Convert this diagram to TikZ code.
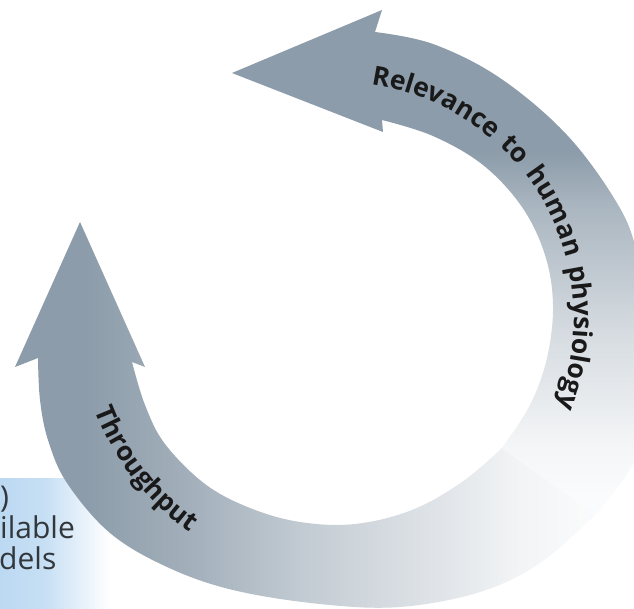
\documentclass[tikz,border=0pt]{standalone}
\usepackage{fontspec}
\setmainfont{Open Sans}
\usetikzlibrary{decorations.text}
\definecolor{tg}{RGB}{140,156,170}
\definecolor{boxblue}{RGB}{188,217,242}
\definecolor{txt}{RGB}{25,25,25}
\definecolor{boxtxt}{RGB}{50,55,60}
\pgfdeclarehorizontalshading{thrushade}{100bp}{color(0bp)=(tg); color(31bp)=(tg); color(41bp)=(tg!78!white); color(50bp)=(tg!52!white); color(62bp)=(tg!26!white); color(68bp)=(tg!12!white); color(74bp)=(tg!5!white); color(100bp)=(tg!5!white)}
\pgfdeclareverticalshading{relshade}{100bp}{color(0bp)=(tg!3!white); color(27bp)=(tg!4!white); color(32bp)=(tg!10!white); color(37bp)=(tg!22!white); color(42bp)=(tg!33!white); color(46bp)=(tg!45!white); color(51bp)=(tg!60!white); color(56bp)=(tg!76!white); color(61bp)=(tg); color(100bp)=(tg)}
\pgfdeclarehorizontalshading{boxshade}{100bp}{color(0bp)=(boxblue); color(25bp)=(boxblue); color(45bp)=(boxblue!85!white); color(75bp)=(white); color(100bp)=(white)}
\newcommand\arcfont{\fontsize{26.5}{30}\selectfont\bfseries}
\tikzset{
  boxtext/.style={anchor=base west, inner sep=0pt, text=boxtxt, font=\fontsize{30}{33}\selectfont},
  arclabel/.style={decorate, decoration={text along path, text align=center, text color=txt, text={|\arcfont|#1}}}
}
\begin{document}
\begin{tikzpicture}[x=1pt,y=1pt]
\useasboundingbox (0,0) rectangle (634,-609);
\clip (0,0) rectangle (634,-609);
\fill[white] (0,0) rectangle (634,-609);
% blue box (cropped)
\shade[shading=boxshade] (0,-478) rectangle (110,-609);
\node[boxtext] (b1) at (0,-507) {)};
\node[boxtext] (b2) at (0,-538) {ilable};
\node[boxtext] (b3) at (-1,-569) {dels};
% Throughput arrow
\shade[shading=thrushade] (80,-222) -- (145,-367) -- (132,-362)
  -- plot[smooth, tension=0.6] coordinates {(132,-362) (145,-405) (165,-444) (205,-484) (250,-508) (300,-522) (355,-524) (412,-510) (462,-482) (502,-448)}
  -- plot[smooth, tension=0.6] coordinates {(595,-515) (540,-563) (480,-592) (400,-607) (320,-604) (233,-590) (167,-567) (110,-533) (67,-483) (48,-440) (40,-400) (38,-358)}
  -- (15,-367) -- cycle;
% Relevance arrow
\shade[shading=relshade] (502,-448)
  -- plot[smooth, tension=0.6] coordinates {(502,-448) (530,-405) (547,-358) (553,-305) (545,-255) (522,-207) (483,-165) (433,-136) (382,-120)}
  -- (383,-132) -- (232,-73) -- (382,-10) -- (375,-32)
  -- plot[smooth, tension=0.6] coordinates {(375,-32) (433,-44) (500,-78) (567,-135) (617,-203) (637,-252) (652,-325) (651,-400) (634,-462) (595,-515)}
  -- cycle;
% labels along the arcs
\coordinate (c) at (338,-318);
\path[arclabel={Relevance{\ \kern3pt}to{\ \kern3pt}human{\ \kern3pt}physiology}] (c) ++(105:236) arc[start angle=105, end angle=-45, radius=236];
\path[arclabel={Throughput}] (c) ++(160:260) arc[start angle=160, end angle=276, radius=260];
\end{tikzpicture}
\end{document}
